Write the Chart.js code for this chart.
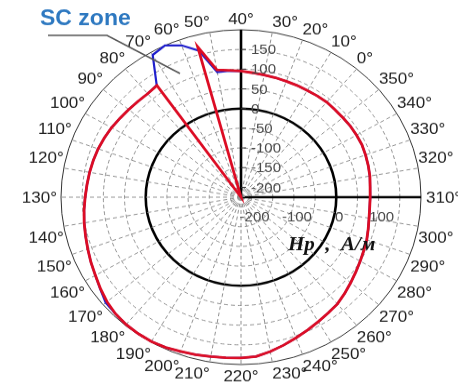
<!DOCTYPE html>
<html>
<head>
<meta charset="utf-8">
<script src="https://cdn.jsdelivr.net/npm/chart.js@4.4.1/dist/chart.umd.min.js"></script>
<style>
  html, body { margin: 0; padding: 0; background: #fff; overflow: hidden; }
</style>
</head>
<body>
<canvas id="polar" width="458" height="414" style="display:block;width:458px;height:385px"></canvas>
<script>
// angle of each reading, degrees (5 deg step)
const angles = [0, 5, 10, 15, 20, 25, 30, 35, 40, 45, 50, 55,
  60, 65, 70, 75, 80, 85, 90, 95, 100, 105, 110, 115,
  120, 125, 130, 135, 140, 145, 150, 155, 160, 165, 170, 175,
  180, 185, 190, 195, 200, 205, 210, 215, 220, 225, 230, 235,
  240, 245, 250, 255, 260, 265, 270, 275, 280, 285, 290, 295,
  300, 305, 310, 315, 320, 325, 330, 335, 340, 345, 350, 355];

// Hp, A/m  (red trace)
const hpRed = [90, 89, 88, 88, 88, 89, 90, 92, 95, 98, 103, 170,
  -225, -225, -225, 121, 118, 119, 121, 124, 128, 131, 134, 136,
  138, 140, 143, 147, 151, 155, 160, 166, 172, 180, 188, 194,
  197, 198, 198, 196, 192, 189, 186, 184, 183, 181, 173, 164,
  155, 147, 140, 134, 129, 121, 113, 106, 100, 95, 91, 86,
  82, 80, 80, 81, 84, 86, 88, 90, 90, 90, 89, 89];

// Hp, A/m  (blue trace)
const hpBlue = [90, 89, 88, 88, 88, 89, 90, 92, 95, 97, 97, 160,
  185, 200, 192, 122, 118, 119, 121, 124, 128, 131, 134, 136,
  138, 140, 143, 147, 151, 155, 160, 166, 172, 181, 192, 194,
  197, 198, 198, 196, 192, 189, 186, 184, 183, 181, 173, 164,
  155, 147, 140, 134, 129, 121, 113, 106, 100, 95, 91, 86,
  82, 80, 80, 81, 84, 86, 88, 90, 90, 90, 89, 89];

const ringValues = [-200, -150, -100, -50, 0, 50, 100, 150, 200];
const vertAxisValues = [-200, -150, -100, -50, 0, 50, 100, 150];
const horizAxisValues = [-200, -100, 0, 100];
const axisAngles = [40, 310];
const rMin = -225;
const rMax = 200;

// radar goes clockwise from the top; 40 deg is at the top here
const order = angles.map((a, i) => (40 - 5 * i + 360) % 360);
const labels = order;
const redData = order.map(t => hpRed[angles.indexOf(t)]);
const blueData = order.map(t => hpBlue[angles.indexOf(t)]);

const textPlugin = {
  id: 'polarText',
  afterDraw(chart) {
    const r = chart.scales.r;
    const ctx = chart.ctx;
    const n = chart.data.labels.length;
    ctx.save();

    // angle labels
    ctx.font = '17px "Liberation Sans", Arial, sans-serif';
    ctx.fillStyle = '#222';
    ctx.textBaseline = 'alphabetic';
    chart.data.labels.forEach((lab, i) => {
      if (lab % 10 !== 0) return;
      const p = r.getPointPosition(i, r.drawingArea);
      const deg = Math.round(i * 360 / n);
      let x = p.x, y = p.y;
      if (deg === 0 || deg === 180) ctx.textAlign = 'center';
      else if (deg < 180) ctx.textAlign = 'left';
      else ctx.textAlign = 'right';
      if (deg === 90) { x += 5; y += 6; }
      else if (deg === 270) { x -= 4; y += 6; }
      else if (deg < 90 || deg > 270) { y -= 6; }
      else { y += 18; }
      ctx.fillText(lab + '°', x, y);
    });

    // vertical axis values
    ctx.font = '15px "Liberation Sans", Arial, sans-serif';
    ctx.fillStyle = '#4a4a4a';
    ctx.strokeStyle = '#333';
    ctx.lineWidth = 1;
    ctx.textAlign = 'left';
    ctx.textBaseline = 'middle';
    vertAxisValues.forEach(v => {
      const d = r.getDistanceFromCenterForValue(v);
      ctx.beginPath();
      ctx.moveTo(r.xCenter, r.yCenter - d);
      ctx.lineTo(r.xCenter + 5, r.yCenter - d);
      ctx.stroke();
      ctx.fillText(String(v), r.xCenter + 10, r.yCenter - d + 1);
    });

    // horizontal axis values
    ctx.textAlign = 'center';
    horizAxisValues.forEach(v => {
      const d = r.getDistanceFromCenterForValue(v);
      ctx.fillText(String(v), r.xCenter + d + 3, r.yCenter + 22);
    });

    // axis title
    ctx.font = 'italic bold 21px "Liberation Serif", "Times New Roman", serif';
    ctx.fillStyle = '#111';
    ctx.textAlign = 'left';
    ctx.textBaseline = 'alphabetic';
    ctx.fillText('Нр  ,  А/м', r.xCenter + 47, r.yCenter + 57);

    // SC zone note
    ctx.font = 'bold 23px "Liberation Sans", Arial, sans-serif';
    ctx.fillStyle = '#2d78c0';
    ctx.fillText('SC zone', 40, 27);
    ctx.strokeStyle = '#555';
    ctx.lineWidth = 1.5;
    ctx.beginPath();
    ctx.moveTo(48, 38);
    ctx.lineTo(107, 38);
    ctx.lineTo(180, 79);
    ctx.stroke();

    ctx.restore();
  }
};

const isAxis = c => axisAngles.includes(c.label);

new Chart(document.getElementById('polar'), {
  type: 'radar',
  data: {
    labels: labels,
    datasets: [{
      label: 'red',
      data: redData,
      borderColor: '#dc0c24',
      borderWidth: 2.8,
      pointRadius: 0,
      fill: false,
      tension: 0
    }, {
      label: 'blue',
      data: blueData,
      borderColor: '#1f1fcc',
      borderWidth: 2.2,
      pointRadius: 0,
      fill: false,
      tension: 0
    }]
  },
  options: {
    responsive: false,
    animation: false,
    devicePixelRatio: 1,
    layout: { padding: { left: 61, right: 37, top: 32, bottom: 22 } },
    plugins: {
      legend: { display: false },
      tooltip: { enabled: false }
    },
    scales: {
      r: {
        min: rMin,
        max: rMax,
        afterBuildTicks: scale => {
          scale.ticks = ringValues.map(v => ({ value: v }));
        },
        ticks: { display: false },
        pointLabels: { display: false },
        grid: {
          circular: true,
          color: c => c.tick.value === 0 ? '#000' : (c.tick.value === 200 ? '#333' : '#909090'),
          lineWidth: c => c.tick.value === 0 ? 2.6 : 1
        },
        border: {
          dash: c => (c.tick.value === 0 || c.tick.value === 200) ? [] : [4, 3]
        },
        angleLines: {
          color: c => isAxis(c) ? '#000' : '#909090',
          lineWidth: c => c.label % 10 !== 0 ? 0 : (isAxis(c) ? 2.6 : 1),
          borderDash: c => isAxis(c) ? [] : [4, 3]
        }
      }
    }
  },
  plugins: [textPlugin]
});
</script>
</body>
</html>
